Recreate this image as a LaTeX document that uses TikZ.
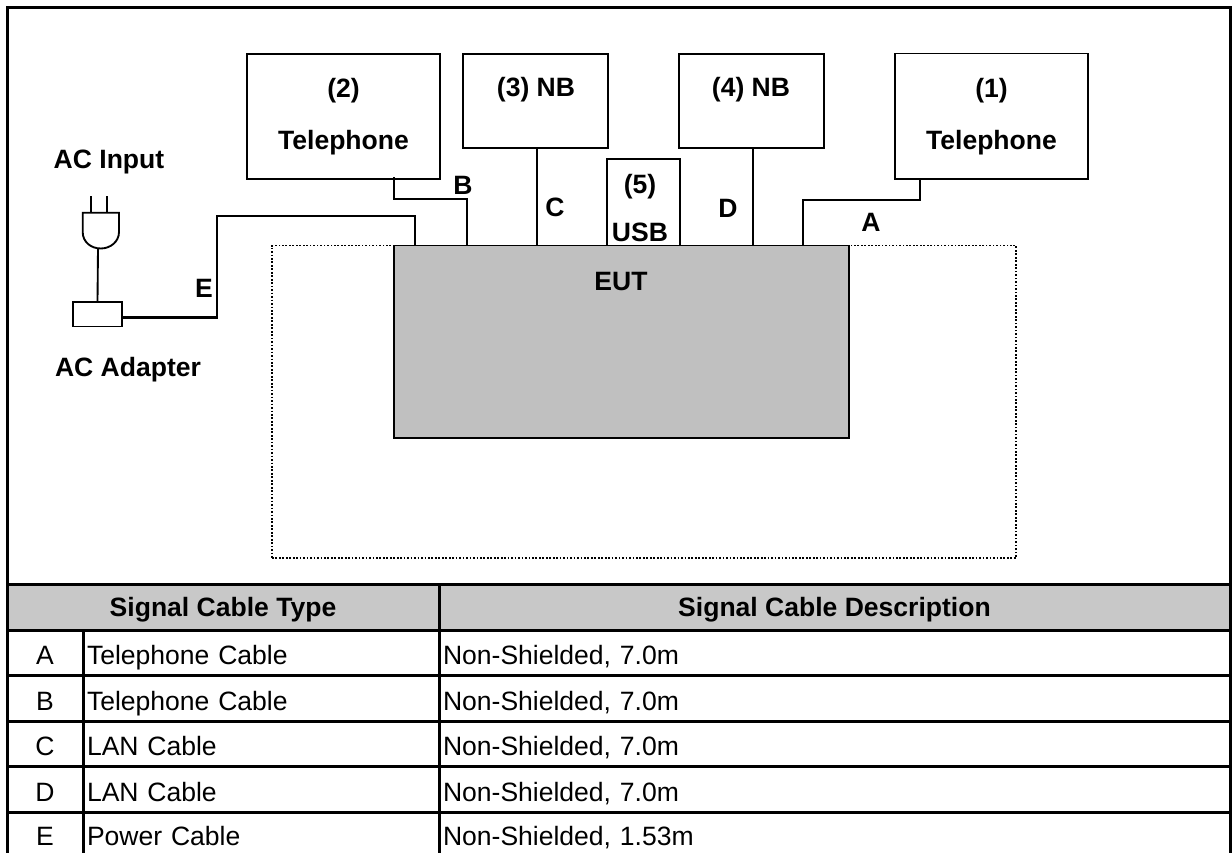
\documentclass[tikz,border=0pt]{standalone}
\usepackage{fontspec}
\setmainfont{Liberation Sans}
\usetikzlibrary{positioning}
\definecolor{eutgray}{HTML}{C0C0C0}
\definecolor{headgray}{HTML}{C8C8C8}
\tikzset{
  frame_box/.style={draw=black,line width=2.25pt,outer sep=0pt,anchor=north west,
    minimum width=917.25pt,minimum height=650pt},
  zone_box/.style={draw=black,line width=1.2pt,dash pattern=on 1.3pt off 1.3pt,outer sep=0pt,
    anchor=north west,minimum width=558pt,minimum height=234.4pt},
  dev_box/.style={draw=black,fill=white,line width=1.4pt,outer sep=0pt,anchor=north west,
    inner sep=0pt,font=\fontsize{19.9}{39}\selectfont\bfseries,align=center},
  eut_box/.style={dev_box,fill=eutgray,minimum width=341.25pt,minimum height=144.4pt},
  lbl/.style={inner sep=0pt,font=\fontsize{19.9}{24}\selectfont\bfseries,align=center},
  wire/.style={draw=black,line width=1.4pt},
  wire_thick/.style={draw=black,line width=1.8pt},
  head_cell/.style={draw=black,fill=headgray,line width=2.25pt,outer sep=0pt,inner xsep=0pt,inner ysep=0pt,
    minimum height=34.5pt,text height=17.5pt,text depth=4pt,align=center,font=\fontsize{19.9}{24}\selectfont\bfseries},
  row_cell/.style={draw=black,line width=2.25pt,outer sep=0pt,inner xsep=3pt,inner ysep=0pt,
    minimum height=34.125pt,text height=20pt,text depth=2pt,font=\fontsize{19.9}{24}\selectfont},
  col_a/.style={row_cell,text width=51pt,align=center},
  col_b/.style={row_cell,text width=261pt,align=left},
  col_c/.style={row_cell,text width=587.25pt,align=left},
  last_row/.style={text height=19pt,text depth=3pt},
}
\begin{document}
\begin{tikzpicture}[x=0.75pt,y=-0.75pt,node distance=0pt]
    \useasboundingbox (0,0) rectangle (1232,853);
    \node[frame_box] (frame) at (7,7) {};
    \node[zone_box] (zone) at (272,245.5) {};

    \node[dev_box,minimum width=144.75pt,minimum height=93.75pt] (tel2) at (247,54) {(2)\\Telephone};
    \node[dev_box,minimum width=108.75pt,minimum height=70.5pt] (nb3) at (463,54) {};
    \node[dev_box,minimum width=108.75pt,minimum height=70.5pt] (nb4) at (679,54) {};
    \node[dev_box,minimum width=144.75pt,minimum height=94pt] (tel1) at (895,53.5) {(1)\\Telephone};
    \node[dev_box,minimum width=54.75pt,minimum height=64.9pt] (usb5) at (607,159) {};
    \node[eut_box] (eut) at (394,245.5) {};
    \node[dev_box,minimum width=36.75pt,minimum height=18.4pt] (adapter) at (73,302) {};

    \node[lbl] (nb3t) at (536,90) {(3) NB};
    \node[lbl] (nb4t) at (751,90) {(4) NB};
    \node[lbl] (usb5a) at (640,187) {(5)};
    \node[lbl] (usb5b) at (640,232) {USB};
    \node[lbl] (eutt) at (621,281) {EUT};
    \node[lbl] (acin) at (109,162) {AC Input};
    \node[lbl] (acad) at (128,370) {AC Adapter};
    \node[lbl] (lblB) at (463,185) {B};
    \node[lbl] (lblC) at (555,207) {C};
    \node[lbl] (lblD) at (728,208) {D};
    \node[lbl] (lblA) at (871,222) {A};
    \node[lbl] (lblE) at (204,288) {E};

    \coordinate (jogA) at (803,200); \coordinate (tapA) at (920,200);
    \coordinate (jogB) at (467,199); \coordinate (tapD) at (753,148);
    \coordinate (tapC) at (537,148);
    \coordinate (outE) at (122,317.5); \coordinate (jogE) at (217,216); \coordinate (inE) at (415,216);
    \coordinate (plugtip) at (98,248.5);

    \draw[wire] (tel1.south -| tapA) -- (tapA) -- (jogA) -- (eut.north -| jogA);
    \draw[wire] (394,177) -- (394,199) -- (jogB) -- (eut.north -| jogB);
    \draw[wire] (tapC) -- (eut.north -| tapC);
    \draw[wire] (tapD) -- (eut.north -| tapD);
    \draw[wire_thick] (outE) -- (outE -| jogE) -- (jogE) -- (inE) -- (eut.north -| inE);

    \draw[wire] (82.7,212.7) -- (119,212.7) -- (119,232) .. controls (119,242) and (110,248.5) .. (100.8,248.5)
      .. controls (91,248.5) and (82.7,242) .. (82.7,232) -- cycle;
    \draw[wire] (90.7,196) -- (90.7,212.7); \draw[wire] (107,196) -- (107,212.7);
    \draw[wire] (plugtip) -- (adapter.north);

    \node[head_cell,anchor=north west,minimum width=324pt] (headtype) at (7,584) {Signal Cable Type};
    \node[head_cell,minimum width=593.25pt,right=of headtype] (headdesc) {Signal Cable Description};

    \node[col_a,anchor=north west] (a1) at (7,630) {A};
    \node[col_b,right=of a1] (a2) {Telephone Cable};
    \node[col_c,right=of a2] (a3) {Non-Shielded, 7.0m};
    \node[col_a,below=of a1] (b1) {B};
    \node[col_b,right=of b1] (b2) {Telephone Cable};
    \node[col_c,right=of b2] (b3) {Non-Shielded, 7.0m};
    \node[col_a,below=of b1] (c1) {C};
    \node[col_b,right=of c1] (c2) {LAN Cable};
    \node[col_c,right=of c2] (c3) {Non-Shielded, 7.0m};
    \node[col_a,below=of c1] (d1) {D};
    \node[col_b,right=of d1] (d2) {LAN Cable};
    \node[col_c,right=of d2] (d3) {Non-Shielded, 7.0m};
    \node[col_a,last_row,below=of d1] (e1) {E};
    \node[col_b,last_row,right=of e1] (e2) {Power Cable};
    \node[col_c,last_row,right=of e2] (e3) {Non-Shielded, 1.53m};
  \end{tikzpicture}
\end{document}
